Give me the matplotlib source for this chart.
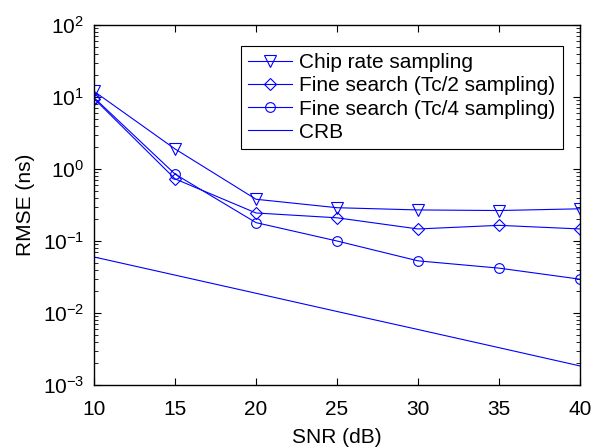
import matplotlib
matplotlib.use("Agg")
import matplotlib.pyplot as plt
from matplotlib.ticker import LogLocator, NullFormatter

plt.rcParams["font.family"] = ["Liberation Sans", "DejaVu Sans"]
plt.rcParams["mathtext.fontset"] = "custom"
plt.rcParams["mathtext.rm"] = "Liberation Sans"
plt.rcParams["mathtext.it"] = "Liberation Sans:italic"
plt.rcParams["mathtext.bf"] = "Liberation Sans:bold"

# RMSE of the delay estimate versus SNR
snr_db = [10, 15, 20, 25, 30, 35, 40]
rmse_chip = [12.0, 1.9, 0.38, 0.29, 0.27, 0.265, 0.28]
rmse_tc2 = [9.5, 0.73, 0.245, 0.21, 0.147, 0.165, 0.147]
rmse_tc4 = [9.8, 0.85, 0.18, 0.10, 0.053, 0.042, 0.0295]
crb = [0.060, 0.0336, 0.0188, 0.0105, 0.0059, 0.0033, 0.00184]

labels = [
    "Chip rate sampling",
    "Fine search (Tc/2 sampling)",
    "Fine search (Tc/4 sampling)",
    "CRB",
]

FS = 15
blue = "#0000ff"
fig = plt.figure(figsize=(5.95, 4.48), dpi=100)
ax = fig.add_axes([94 / 595, 1 - 385 / 448, 486 / 595, 360 / 448])

common = dict(color=blue, linewidth=0.8, markerfacecolor="none",
              markeredgecolor=blue, markeredgewidth=0.8)
ax.semilogy(snr_db, rmse_chip, marker="v", markersize=8, label=labels[0], **common)
ax.semilogy(snr_db, rmse_tc2, marker="D", markersize=6, label=labels[1], **common)
ax.semilogy(snr_db, rmse_tc4, marker="o", markersize=7, label=labels[2], **common)
ax.semilogy(snr_db, crb, color=blue, linewidth=0.8, label=labels[3])

ax.set_xlim(10, 40)
ax.set_ylim(1e-3, 1e2)
ax.set_xticks(snr_db)
ax.yaxis.set_major_locator(LogLocator(base=10, numticks=10))
ax.yaxis.set_minor_locator(LogLocator(base=10, subs=range(2, 10), numticks=10))
ax.yaxis.set_minor_formatter(NullFormatter())

ax.tick_params(which="both", direction="in", top=True, right=True,
               labelsize=FS, colors="black")
ax.tick_params(axis="x", pad=11)
ax.tick_params(axis="y", pad=7)
ax.tick_params(which="major", length=5, width=0.8)
ax.tick_params(which="minor", length=3, width=0.6)
for sp in ax.spines.values():
    sp.set_linewidth(1.0)
    sp.set_color("black")

ax.set_xlabel("SNR (dB)", fontsize=FS, labelpad=6)
ax.set_ylabel("RMSE (ns)", fontsize=FS, labelpad=6)

leg = ax.legend(loc="upper right", bbox_to_anchor=(0.965, 0.942),
                fontsize=FS, frameon=True, fancybox=False, framealpha=1,
                edgecolor="black", handlelength=2.1, handletextpad=0.35,
                labelspacing=0.2, borderpad=0.35, borderaxespad=0)
leg.get_frame().set_linewidth(0.8)

fig.savefig("out.png", dpi=100)
